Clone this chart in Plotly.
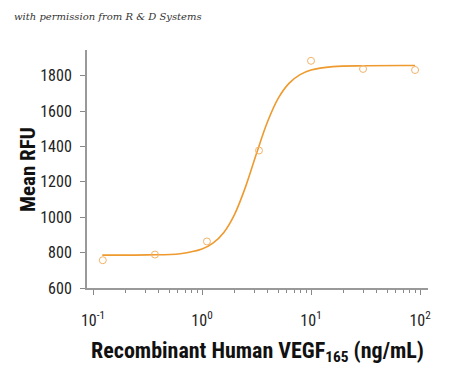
import plotly.graph_objects as go

# Measured data (ng/mL, Mean RFU)
conc = [0.123, 0.37, 1.11, 3.33, 10, 30, 90]
rfu = [757, 789, 863, 1377, 1884, 1838, 1832]

# Fitted curve
curve_x = [0.1217, 0.316, 0.631, 1.0, 1.259, 1.585, 1.995, 2.512, 3.162, 3.981,
           5.012, 6.31, 7.943, 10.0, 15.85, 31.6, 90.0]
curve_y = [786, 787, 794, 820, 853, 914, 1018, 1173, 1360, 1538,
           1673, 1758, 1806, 1832, 1851, 1856, 1857]

x_tickvals = [0.1, 1, 10, 100]
x_ticktext = ["10<sup>-1</sup>", "10<sup>0</sup>", "10<sup>1</sup>", "10<sup>2</sup>"]
y_tickvals = [600, 800, 1000, 1200, 1400, 1600, 1800]
minor_vals = [m * d for d in (0.1, 1, 10) for m in range(2, 10)]

orange = "#EE9A2E"
font_fam = "Liberation Sans Narrow, Roboto Condensed, Arial Narrow, Liberation Sans, sans-serif"

fig = go.Figure()
fig.add_trace(go.Scatter(x=curve_x, y=curve_y, mode="lines",
                         line=dict(color=orange, width=1.6, shape="spline"),
                         hoverinfo="skip", showlegend=False))
fig.add_trace(go.Scatter(x=conc, y=rfu, mode="markers",
                         marker=dict(symbol="circle-open", size=7,
                                     color="#F2B36A", line=dict(width=1)),
                         showlegend=False))

fig.update_layout(
    width=450, height=377,
    margin=dict(l=79, r=30, t=42, b=97),
    paper_bgcolor="white", plot_bgcolor="white",
    font=dict(family=font_fam, size=16, color="#222"),
    xaxis=dict(type="log", range=[-1.055, 2.073], automargin=False,
               tickmode="array", tickvals=x_tickvals, ticktext=x_ticktext,
               ticks="outside", ticklen=5, tickcolor="#888", tickwidth=1,
               ticklabelstandoff=12,
               minor=dict(tickmode="array", tickvals=minor_vals, ticks="outside",
                          ticklen=3, tickcolor="#888", tickwidth=1, showgrid=False),
               showline=True, linecolor="#999", linewidth=2,
               showgrid=False, zeroline=False,
               tickfont=dict(size=16),
               title=dict(text="<b>Recombinant Human VEGF<sub>165</sub> (ng/mL)</b>",
                          font=dict(size=22, color="#111"), standoff=13)),
    yaxis=dict(range=[600, 1945], tickmode="array", automargin=False,
               tickvals=y_tickvals,
               ticks="outside", ticklen=5, tickcolor="#888", tickwidth=1,
               ticklabelstandoff=5,
               showline=True, linecolor="#999", linewidth=2,
               showgrid=False, zeroline=False,
               tickfont=dict(size=16)),
)

fig.add_annotation(text="<b>Mean RFU</b>", textangle=-90,
                   xref="paper", yref="paper", x=-0.173, y=0.496,
                   xanchor="center", yanchor="middle", showarrow=False,
                   font=dict(size=21, color="#111"))

fig.add_annotation(text="<i>with permission from R &amp; D Systems</i>",
                   xref="paper", yref="paper", x=-0.22, y=1.139,
                   xanchor="left", yanchor="middle", showarrow=False,
                   font=dict(family="DejaVu Serif, serif", size=10, color="#333"))

fig.write_html("out.html")
